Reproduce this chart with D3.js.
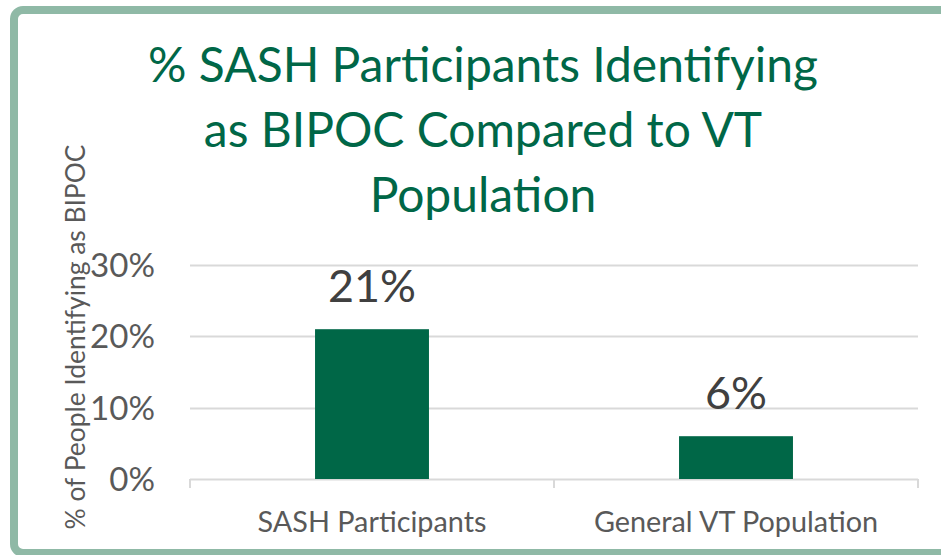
<!DOCTYPE html>
<html>
<head>
<meta charset="utf-8">
<script src="https://cdn.jsdelivr.net/npm/d3@7"></script>
<style>
  body { margin: 0; background: #fff; }
  svg { display: block; font-family: Lato, "Open Sans", sans-serif; }
</style>
</head>
<body>
<svg id="chart" width="941" height="555"></svg>
<script>
// data
var categories = ["SASH Participants", "General VT Population"];
var values = [0.21, 0.06];
var yTicks = [0, 0.1, 0.2, 0.3];
var titleLines = ["% SASH Participants Identifying", "as BIPOC Compared to VT", "Population"];
var yTitle = "% of People Identifying as BIPOC";

var green = "#006747";
var svg = d3.select("#chart");

// frame
svg.append("rect")
	.attr("x", 14).attr("y", 10)
	.attr("width", 945).attr("height", 543)
	.attr("rx", 9)
	.attr("fill", "#fff")
	.attr("stroke", "#8fb9a6")
	.attr("stroke-width", 8);

// scale font so text hits a measured width
function fit(sel, w){
	var len = sel.node().getComputedTextLength();
	var fs = parseFloat(sel.attr("font-size"));
	sel.attr("font-size", fs * w / len);
}

var plot = {left: 190, right: 918, top: 265, bottom: 479};

var x = d3.scaleBand()
	.domain(categories)
	.range([plot.left, plot.right])
	.paddingInner(0.687)
	.paddingOuter(0.3435);

var y = d3.scaleLinear()
	.domain([0, 0.3])
	.range([plot.bottom, plot.top]);

// gridlines
svg.append("g")
	.selectAll("line")
	.data(yTicks)
	.join("line")
	.attr("x1", plot.left).attr("x2", plot.right)
	.attr("y1", function(d){ return Math.round(y(d)) + 0.5; })
	.attr("y2", function(d){ return Math.round(y(d)) + 0.5; })
	.attr("stroke", "#d9d9d9")
	.attr("stroke-width", 2);

// category tick marks (between categories)
var catEdges = [plot.left, (plot.left + plot.right) / 2, plot.right];
svg.append("g")
	.selectAll("line")
	.data(catEdges)
	.join("line")
	.attr("x1", function(d){ return d; }).attr("x2", function(d){ return d; })
	.attr("y1", plot.bottom).attr("y2", plot.bottom + 9)
	.attr("stroke", "#d9d9d9")
	.attr("stroke-width", 2);

// y tick labels
var tl = svg.append("g")
	.selectAll("text")
	.data(yTicks)
	.join("text")
	.attr("x", 155)
	.attr("y", function(d){ return y(d) + 12; })
	.attr("text-anchor", "end")
	.attr("font-size", 30)
	.attr("fill", "#595959")
	.text(d3.format(".0%"));
fit(d3.select(tl.nodes()[3]), 65);
tl.attr("font-size", d3.select(tl.nodes()[3]).attr("font-size"));

// bars
svg.append("g")
	.selectAll("rect")
	.data(values)
	.join("rect")
	.attr("x", function(d, i){ return x(categories[i]); })
	.attr("width", x.bandwidth())
	.attr("y", function(d){ return y(d); })
	.attr("height", function(d){ return y(0) - y(d); })
	.attr("fill", green);

// data labels
var dl = svg.append("g")
	.selectAll("text")
	.data(values)
	.join("text")
	.attr("x", function(d, i){ return x(categories[i]) + x.bandwidth() / 2; })
	.attr("y", function(d){ return y(d) - 27; })
	.attr("text-anchor", "middle")
	.attr("font-size", 44)
	.attr("fill", "#404040")
	.text(d3.format(".0%"));
fit(d3.select(dl.nodes()[0]), 88);
dl.attr("font-size", d3.select(dl.nodes()[0]).attr("font-size"));

// category labels
var cl = svg.append("g")
	.selectAll("text")
	.data(categories)
	.join("text")
	.attr("x", function(d){ return x(d) + x.bandwidth() / 2; })
	.attr("y", 532)
	.attr("text-anchor", "middle")
	.attr("font-size", 25)
	.attr("fill", "#595959")
	.text(function(d){ return d; });
fit(d3.select(cl.nodes()[0]), 229);
cl.attr("font-size", d3.select(cl.nodes()[0]).attr("font-size"));

// y axis title
var yt = svg.append("text")
	.attr("transform", "translate(85,337) rotate(-90)")
	.attr("text-anchor", "middle")
	.attr("font-size", 26)
	.attr("fill", "#595959")
	.text(yTitle);
fit(yt, 385);

// title
var tt = svg.append("g")
	.selectAll("text")
	.data(titleLines)
	.join("text")
	.attr("x", 483)
	.attr("y", function(d, i){ return 82 + i * 65; })
	.attr("text-anchor", "middle")
	.attr("font-size", 46)
	.attr("fill", green)
	.text(function(d){ return d; });
fit(d3.select(tt.nodes()[0]), 670);
tt.attr("font-size", d3.select(tt.nodes()[0]).attr("font-size"));
</script>
</body>
</html>
